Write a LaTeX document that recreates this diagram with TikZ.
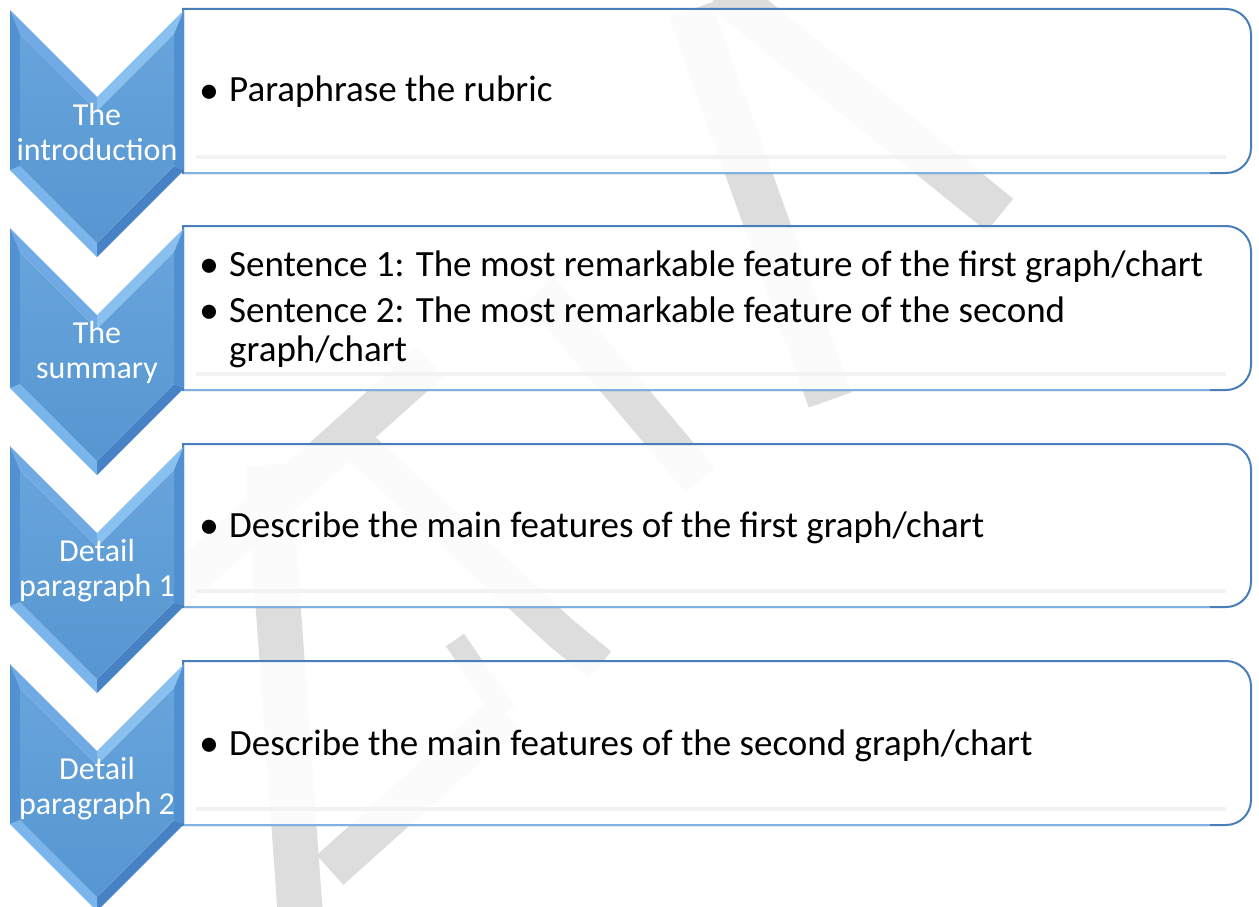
\documentclass[tikz,border=0pt]{standalone}
\usepackage{fontspec}
\setmainfont{Carlito}
\definecolor{wmgray}{RGB}{221,221,221}
\definecolor{rectborder}{RGB}{74,126,187}
\definecolor{rectbottom}{RGB}{128,176,226}
\definecolor{chevmain}{RGB}{90,156,217}
\definecolor{chevTL}{RGB}{112,170,228}
\definecolor{chevTR}{RGB}{138,192,240}
\definecolor{chevR}{RGB}{80,144,208}
\definecolor{chevBR}{RGB}{70,130,196}
\definecolor{chevBL}{RGB}{122,182,236}
\definecolor{chevL}{RGB}{82,146,210}
\newcommand\bluerect[2]{%
  \fill[white,opacity=0.9] (183,#1) -- (1226,#1) [rounded corners=25pt] -- (1251,#1) -- (1251,#2) -- (1226,#2) [sharp corners] -- (183,#2) -- cycle;
  \draw[line width=4pt,black!5] (196,#2-16) -- (1226,#2-16);
  \draw[rectborder,line width=2pt] (183,#1) -- (1200,#1) [rounded corners=25pt] -- (1251,#1) -- (1251,#2) -- (1200,#2) [sharp corners] -- (183,#2) -- cycle;
  \draw[rectbottom,line width=1.6pt] (184,#2) -- (1210,#2);
}
\newcommand\chevron[1]{%
  \fill[chevTL] (10,#1) -- (97,#1+87) -- (97,#1+101) -- (20,#1+24) -- cycle;
  \fill[chevTR] (97,#1+87) -- (184,#1) -- (174,#1+24) -- (97,#1+101) -- cycle;
  \fill[chevR] (184,#1) -- (184,#1+160) -- (174,#1+156) -- (174,#1+24) -- cycle;
  \fill[chevBR] (184,#1+160) -- (97,#1+247) -- (97,#1+233) -- (174,#1+156) -- cycle;
  \fill[chevBL] (97,#1+247) -- (10,#1+160) -- (20,#1+156) -- (97,#1+233) -- cycle;
  \fill[chevL] (10,#1+160) -- (10,#1) -- (20,#1+24) -- (20,#1+156) -- cycle;
  \shade[top color=chevmain!92!white, bottom color=chevmain!96!black] (20,#1+24) -- (97,#1+101) -- (174,#1+24) -- (174,#1+156) -- (97,#1+233) -- (20,#1+156) -- cycle;
}
\begin{document}
\begin{tikzpicture}[x=1pt,y=-1pt,
  chevlabel/.style={text=white,font=\fontsize{32}{36}\selectfont,inner sep=0pt,anchor=base},
  bullettext/.style={text=black,font=\fontsize{37}{44}\selectfont,inner sep=0pt,anchor=base west},
  bulletdot/.style={text=black,font=\fontsize{40}{44}\selectfont,inner sep=0pt,anchor=base west},
  wm/.style={draw=wmgray,line width=42pt}]
\useasboundingbox (0,0) rectangle (1259,907);
\fill[white] (0,0) rectangle (1259,907);
% watermark
\draw[wm] (722,-10) -- (1000,215);
\draw[wm,line width=45pt] (690,10) -- (830,400);
\draw[wm,line width=40pt] (175,590) -- (430,362);
\draw[wm,line width=38pt] (540,290) -- (700,480);
\draw[wm,line width=35pt] (340,428) -- (560,632) -- (600,665);
\draw[wm,line width=22pt] (455,640) -- (505,713);
\draw[wm,line width=40pt] (505,713) -- (330,870);
\draw[wm,line width=45pt] (268,465) -- (300,910);
% boxes
\bluerect{9}{173}
\bluerect{226}{390}
\bluerect{444}{607}
\bluerect{661}{825}
% chevrons
\chevron{10}
\chevron{228}
\chevron{446}
\chevron{664}
% chevron labels
\node[chevlabel] (c1a) at (97,125) {The};
\node[chevlabel] (c1b) at (97,160) {introduction};
\node[chevlabel] (c2a) at (97,343) {The};
\node[chevlabel] (c2b) at (97,378) {summary};
\node[chevlabel] (c3a) at (97,561) {Detail};
\node[chevlabel] (c3b) at (97,596) {paragraph 1};
\node[chevlabel] (c4a) at (97,779) {Detail};
\node[chevlabel] (c4b) at (97,814) {paragraph 2};
% box texts
\node[bulletdot] (d1) at (199,103) {•};
\node[bullettext] (t1) at (229,102) {Paraphrase the rubric};
\node[bulletdot] (d2) at (199,277) {•};
\node[bullettext] (t2) at (229,276) {Sentence 1: The most remarkable feature of the first graph/chart};
\node[bulletdot] (d3) at (199,323) {•};
\node[bullettext] (t3) at (229,322) {Sentence 2: The most remarkable feature of the second};
\node[bullettext] (t3b) at (229,361) {graph/chart};
\node[bulletdot] (d4) at (199,538) {•};
\node[bullettext] (t4) at (229,537) {Describe the main features of the first graph/chart};
\node[bulletdot] (d5) at (199,756) {•};
\node[bullettext] (t5) at (229,755) {Describe the main features of the second graph/chart};
\end{tikzpicture}
\end{document}
